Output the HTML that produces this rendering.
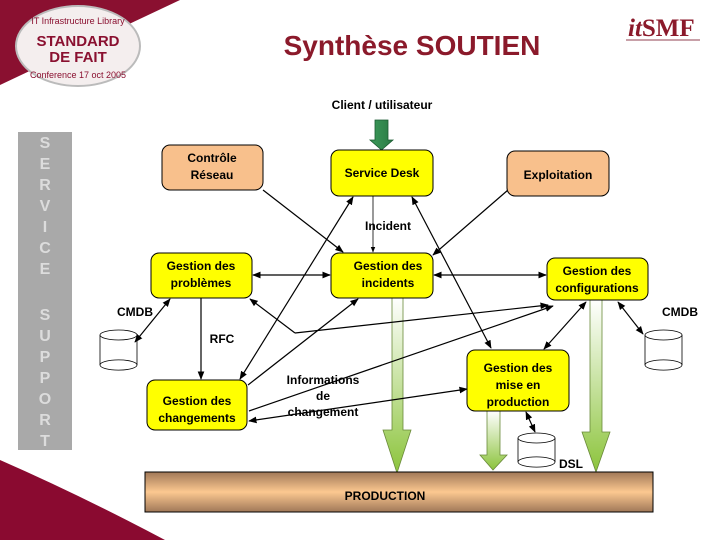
<!DOCTYPE html>
<html><head><meta charset="utf-8"><style>
body{margin:0;background:#fff;}
svg{display:block;font-family:"Liberation Sans",sans-serif;}
</style></head><body>
<svg width="720" height="540" viewBox="0 0 720 540" xmlns="http://www.w3.org/2000/svg">
<defs>
<marker id="a" viewBox="0 0 10 10" refX="9" refY="5" markerWidth="7" markerHeight="7" orient="auto-start-reverse"><path d="M0,1 L10,5 L0,9 z" fill="#000"/></marker>
<linearGradient id="g" x1="0" y1="0" x2="0" y2="1"><stop offset="0" stop-color="#ffffff"/><stop offset="1" stop-color="#8cc43c"/></linearGradient>
<linearGradient id="p" x1="0" y1="0" x2="0" y2="1"><stop offset="0" stop-color="#a07858"/><stop offset="0.5" stop-color="#fcc890"/><stop offset="1" stop-color="#a07858"/></linearGradient>
<linearGradient id="cg" x1="0" y1="0" x2="1" y2="0"><stop offset="0" stop-color="#3c9a5a"/><stop offset="1" stop-color="#2a7a44"/></linearGradient>
</defs>
<path d="M0,0 L180,0 L0,85 z" fill="#8a1030"/>
<ellipse cx="78" cy="46" rx="62" ry="40" fill="#f4eeee" stroke="#bbb" stroke-width="2"/>
<text x="78" y="46" font-size="15" font-weight="bold" fill="#8a1030" text-anchor="middle">STANDARD</text>
<text x="78" y="62" font-size="15" font-weight="bold" fill="#8a1030" text-anchor="middle">DE FAIT</text>
<text x="78" y="24" font-size="9" fill="#8a1030" text-anchor="middle">IT Infrastructure Library</text>
<text x="78" y="78" font-size="9" fill="#8a1030" text-anchor="middle">Conference 17 oct 2005</text>
<path d="M0,460 Q80,495 165,540 L0,540 z" fill="#8a0a30"/>
<text x="412" y="55" font-size="28" font-weight="bold" fill="#8b1a2b" text-anchor="middle">Synthèse SOUTIEN</text>
<text x="628" y="36" font-size="25" font-weight="bold" fill="#8b1a2b" font-family="Liberation Serif,serif"><tspan font-style="italic">it</tspan><tspan>SMF</tspan></text>
<rect x="626" y="39" width="74" height="2" fill="#c8a0a8"/>
<rect x="18" y="132" width="54" height="318" fill="#a9a9a9"/>
<g font-size="16" font-weight="bold" fill="#dcdcdc" text-anchor="middle">
<text x="45" y="148">S</text><text x="45" y="169">E</text><text x="45" y="190">R</text><text x="45" y="211">V</text><text x="45" y="232">I</text><text x="45" y="253">C</text><text x="45" y="274">E</text>
<text x="45" y="320">S</text><text x="45" y="341">U</text><text x="45" y="362">P</text><text x="45" y="383">P</text><text x="45" y="404">O</text><text x="45" y="425">R</text><text x="45" y="446">T</text>
</g>
<text x="382" y="109" font-size="12" font-weight="bold" text-anchor="middle">Client / utilisateur</text>
<path d="M375,120 H388 V140 H393 L381.5,150 L370,140 H375 z" fill="url(#cg)" stroke="#1a5a30" stroke-width="0.8"/>
<path d="M392,297 H403 V430 H411 L397,473 L383,430 H392 z" fill="url(#g)" stroke="#6a8a3a" stroke-width="0.8"/>
<path d="M487,411 H500 V455 H507 L493,470 L480,455 H487 z" fill="url(#g)" stroke="#6a8a3a" stroke-width="0.8"/>
<path d="M590,300 H602 V432 H610 L596,472 L582,432 H590 z" fill="url(#g)" stroke="#6a8a3a" stroke-width="0.8"/>
<rect x="145" y="472" width="508" height="40" fill="url(#p)" stroke="#000" stroke-width="1"/>
<text x="385" y="500" font-size="12" font-weight="bold" text-anchor="middle">PRODUCTION</text>
<g fill="#fff" stroke="#000" stroke-width="0.8">
<path d="M100,335 V365 A18,5 0 0 0 137,365 V335"/><ellipse cx="118.5" cy="335" rx="18.5" ry="5"/><path d="M100,365 A18,5 0 0 1 137,365" fill="none"/>
<path d="M645,335 V365 A18,5 0 0 0 682,365 V335"/><ellipse cx="663.5" cy="335" rx="18.5" ry="5"/><path d="M645,365 A18,5 0 0 1 682,365" fill="none"/>
<path d="M518,438 V462 A18,5 0 0 0 555,462 V438"/><ellipse cx="536.5" cy="438" rx="18.5" ry="5"/><path d="M518,462 A18,5 0 0 1 555,462" fill="none"/>
</g>
<g stroke="#000" stroke-width="1.2" fill="none">
<line x1="263" y1="190" x2="343" y2="252" marker-end="url(#a)"/>
<line x1="373" y1="195" x2="373" y2="252" stroke-width="0.8" marker-end="url(#a)"/>
<line x1="508" y1="190" x2="433" y2="255" marker-end="url(#a)"/>
<line x1="253" y1="275" x2="330" y2="275" marker-start="url(#a)" marker-end="url(#a)"/>
<line x1="434" y1="275" x2="546" y2="275" marker-start="url(#a)" marker-end="url(#a)"/>
<line x1="353" y1="197" x2="240" y2="379" marker-start="url(#a)" marker-end="url(#a)"/>
<line x1="412" y1="197" x2="491" y2="348" marker-start="url(#a)" marker-end="url(#a)"/>
<line x1="248" y1="385" x2="358" y2="299" marker-end="url(#a)"/>
<line x1="170" y1="299" x2="135" y2="342" marker-start="url(#a)" marker-end="url(#a)"/>
<line x1="201" y1="298" x2="201" y2="379" marker-end="url(#a)"/>
<polyline points="295,333 250,299" marker-end="url(#a)"/>
<line x1="295" y1="333" x2="548" y2="305" marker-end="url(#a)"/>
<line x1="249" y1="411" x2="553" y2="306" marker-end="url(#a)"/>
<line x1="249" y1="421" x2="467" y2="389" marker-start="url(#a)" marker-end="url(#a)"/>
<line x1="586" y1="302" x2="544" y2="349" marker-start="url(#a)" marker-end="url(#a)"/>
<line x1="618" y1="302" x2="643" y2="334" marker-start="url(#a)" marker-end="url(#a)"/>
<line x1="526" y1="412" x2="535" y2="432" marker-start="url(#a)" marker-end="url(#a)"/>
</g>
<g stroke="#000" stroke-width="1">
<rect x="162" y="145" width="101" height="45" rx="8" fill="#f8c08c"/>
<rect x="331" y="150" width="102" height="46" rx="8" fill="#ffff00"/>
<rect x="507" y="151" width="102" height="45" rx="8" fill="#f8c08c"/>
<rect x="151" y="253" width="101" height="45" rx="8" fill="#ffff00"/>
<rect x="331" y="253" width="102" height="45" rx="8" fill="#ffff00"/>
<rect x="547" y="258" width="101" height="42" rx="8" fill="#ffff00"/>
<rect x="147" y="380" width="100" height="50" rx="8" fill="#ffff00"/>
<rect x="467" y="350" width="102" height="61" rx="8" fill="#ffff00"/>
</g>
<g font-size="12" font-weight="bold" text-anchor="middle">
<text x="212" y="162">Contrôle</text><text x="212" y="179">Réseau</text>
<text x="382" y="177">Service Desk</text>
<text x="558" y="179">Exploitation</text>
<text x="201" y="270">Gestion des</text><text x="201" y="287">problèmes</text>
<text x="388" y="270">Gestion des</text><text x="388" y="287">incidents</text>
<text x="597" y="275">Gestion des</text><text x="597" y="292">configurations</text>
<text x="197" y="405">Gestion des</text><text x="197" y="422">changements</text>
<text x="518" y="372">Gestion des</text><text x="518" y="389">mise en</text><text x="518" y="406">production</text>
<text x="388" y="230">Incident</text>
<text x="222" y="343">RFC</text>
<text x="135" y="316">CMDB</text>
<text x="680" y="316">CMDB</text>
<text x="571" y="468">DSL</text>
<text x="323" y="384">Informations</text><text x="323" y="400">de</text><text x="323" y="416">changement</text>
</g>
</svg>
</body></html>
